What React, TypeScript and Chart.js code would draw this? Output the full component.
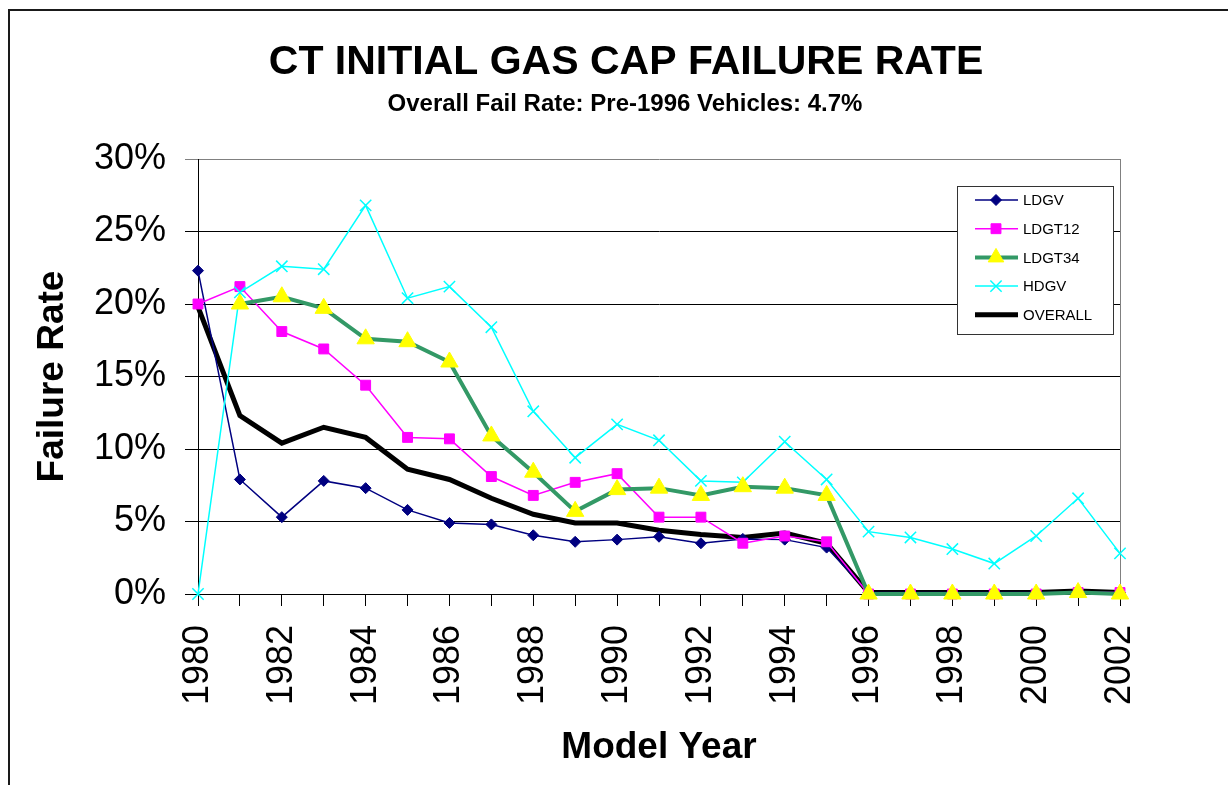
import React, { useEffect, useRef } from 'react';
import { Chart, registerables } from 'chart.js';
import { drawPoint } from 'chart.js/helpers';

Chart.register(...registerables);

const years = ['1980','1981','1982','1983','1984','1985','1986','1987','1988','1989','1990','1991','1992','1993','1994','1995','1996','1997','1998','1999','2000','2001','2002'];
const ldgv = [22.3, 7.9, 5.3, 7.8, 7.3, 5.8, 4.9, 4.8, 4.05, 3.6, 3.75, 3.95, 3.5, 3.8, 3.75, 3.2, 0.1, 0.1, 0.1, 0.1, 0.1, 0.1, 0.1];
const ldgt12 = [20.0, 21.2, 18.1, 16.9, 14.4, 10.8, 10.7, 8.1, 6.8, 7.7, 8.3, 5.3, 5.3, 3.5, 4.0, 3.6, 0, 0, 0, 0, 0, 0.1, 0.1];
const ldgt34 = [null, 20.0, 20.5, 19.7, 17.6, 17.4, 16.0, 10.9, 8.4, 5.7, 7.2, 7.3, 6.8, 7.4, 7.3, 6.8, 0, 0, 0, 0, 0, 0.1, 0];
const hdgv = [0, 20.8, 22.6, 22.4, 26.8, 20.4, 21.2, 18.4, 12.6, 9.4, 11.7, 10.6, 7.8, 7.7, 10.5, 7.9, 4.3, 3.9, 3.1, 2.1, 4.0, 6.6, 2.8];
const overall = [19.8, 12.3, 10.4, 11.5, 10.8, 8.6, 7.9, 6.6, 5.5, 4.9, 4.9, 4.4, 4.1, 3.9, 4.2, 3.5, 0.1, 0.1, 0.1, 0.1, 0.1, 0.2, 0.1];
const yTicks = [0, 5, 10, 15, 20, 25, 30];

const titleText = 'CT INITIAL GAS CAP FAILURE RATE';
const subtitleText = 'Overall Fail Rate: Pre-1996 Vehicles: 4.7%';
const FONT = '"Liberation Sans", Arial, sans-serif';

const decorPlugin = {
  id: 'decor',
  beforeDatasetsDraw(chart: any) {
    const { ctx, chartArea } = chart;
    ctx.save();
    ctx.strokeStyle = '#808080';
    ctx.lineWidth = 1;
    ctx.beginPath();
    ctx.moveTo(Math.round(chartArea.right) + 0.5, chartArea.top);
    ctx.lineTo(Math.round(chartArea.right) + 0.5, chartArea.bottom);
    ctx.stroke();
    ctx.restore();
  },
  afterDraw(chart: any) {
    const { ctx, chartArea } = chart;
    ctx.save();
    // outer border
    ctx.strokeStyle = '#1a1a1a';
    ctx.lineWidth = 2;
    ctx.beginPath();
    ctx.moveTo(9, chart.height);
    ctx.lineTo(9, 10);
    ctx.lineTo(chart.width, 10);
    ctx.stroke();
    // titles
    ctx.fillStyle = '#000';
    ctx.textAlign = 'center';
    ctx.textBaseline = 'middle';
    ctx.font = 'bold 41px ' + FONT;
    ctx.fillText(titleText, 626, 63);
    ctx.font = 'bold 24px ' + FONT;
    ctx.fillText(subtitleText, 625, 104);

    // legend box
    const x0 = Math.round(chartArea.right) - 163;
    const y0 = Math.round(chartArea.top) + 27;
    const w = 156;
    const h = 148;
    ctx.fillStyle = '#fff';
    ctx.fillRect(x0, y0, w, h);
    ctx.strokeStyle = '#333';
    ctx.lineWidth = 1;
    ctx.strokeRect(x0 + 0.5, y0 + 0.5, w, h);
    chart.data.datasets.forEach((ds: any, i: number) => {
      const y = y0 + 14 + i * 28.7;
      ctx.strokeStyle = ds.borderColor;
      ctx.lineWidth = ds.borderWidth;
      ctx.beginPath();
      ctx.moveTo(x0 + 18, y);
      ctx.lineTo(x0 + 61, y);
      ctx.stroke();
      if (ds.pointRadius > 0) {
        ctx.fillStyle = ds.pointBackgroundColor;
        ctx.strokeStyle = ds.pointBorderColor;
        ctx.lineWidth = ds.pointBorderWidth;
        drawPoint(ctx, { pointStyle: ds.pointStyle, radius: ds.legendRadius, borderWidth: ds.pointBorderWidth, rotation: 0 } as any, x0 + 39, y);
      }
      ctx.fillStyle = '#000';
      ctx.textAlign = 'left';
      ctx.textBaseline = 'middle';
      ctx.font = '15px ' + FONT;
      ctx.fillText(ds.label, x0 + 66, y + 1);
    });
    ctx.restore();
  },
};

export default function App() {
  const ref = useRef<HTMLCanvasElement>(null);

  useEffect(() => {
    if (!ref.current) return;
    Chart.defaults.font.family = FONT;
    const chart = new Chart(ref.current, {
      type: 'line',
      data: {
        labels: years,
        datasets: [
          {
            label: 'LDGV',
            data: ldgv,
            borderColor: '#000080',
            backgroundColor: '#000080',
            borderWidth: 1.5,
            pointStyle: 'rectRot',
            pointRadius: 5.5,
            legendRadius: 5.5,
            pointBackgroundColor: '#000080',
            pointBorderColor: '#000080',
            pointBorderWidth: 1,
            order: 3,
            clip: false,
          } as any,
          {
            label: 'LDGT12',
            data: ldgt12,
            borderColor: '#FF00FF',
            backgroundColor: '#FF00FF',
            borderWidth: 1.5,
            pointStyle: 'rect',
            pointRadius: 7,
            legendRadius: 7,
            pointBackgroundColor: '#FF00FF',
            pointBorderColor: '#FF00FF',
            pointBorderWidth: 1,
            order: 2,
            clip: false,
          } as any,
          {
            label: 'LDGT34',
            data: ldgt34,
            borderColor: '#339966',
            backgroundColor: '#FFFF00',
            borderWidth: 4,
            pointStyle: 'triangle',
            pointRadius: 10,
            legendRadius: 9,
            pointBackgroundColor: '#FFFF00',
            pointBorderColor: '#FFFF00',
            pointBorderWidth: 1,
            order: 0,
            clip: false,
          } as any,
          {
            label: 'HDGV',
            data: hdgv,
            borderColor: '#00FFFF',
            backgroundColor: '#00FFFF',
            borderWidth: 1.5,
            pointStyle: 'crossRot',
            pointRadius: 8,
            legendRadius: 8,
            pointBackgroundColor: '#00FFFF',
            pointBorderColor: '#00FFFF',
            pointBorderWidth: 1.5,
            order: 1,
            clip: false,
          } as any,
          {
            label: 'OVERALL',
            data: overall,
            borderColor: '#000000',
            backgroundColor: '#000000',
            borderWidth: 5,
            pointRadius: 0,
            legendRadius: 0,
            pointBorderWidth: 0,
            borderJoinStyle: 'miter',
            order: 4,
            clip: false,
          } as any,
        ],
      },
      options: {
        responsive: false,
        animation: false,
        events: [],
        layout: { padding: { top: 159, left: 0, right: 108, bottom: 0 } },
        plugins: {
          legend: { display: false },
          title: { display: false },
          tooltip: { enabled: false },
        },
        scales: {
          x: {
            type: 'category',
            offset: false,
            afterFit: (s: any) => { s.height = 191; },
            grid: { drawOnChartArea: false, drawTicks: true, tickLength: 12, color: '#000', lineWidth: 1 },
            border: { display: true, color: '#000', width: 1 },
            ticks: {
              autoSkip: false,
              maxRotation: 90,
              minRotation: 90,
              padding: 19,
              color: '#000',
              font: { size: 36 },
              callback: (_v: any, i: number) => (i % 2 === 0 ? years[i] : ''),
            },
            title: {
              display: true,
              text: 'Model Year',
              color: '#000',
              font: { size: 37, weight: 'bold' },
              padding: { top: 0, bottom: 15 },
            },
          },
          y: {
            min: yTicks[0],
            max: yTicks[yTicks.length - 1],
            afterFit: (s: any) => { s.width = 198; },
            afterBuildTicks: (s: any) => { s.ticks = yTicks.map((v) => ({ value: v })); },
            grid: {
              drawOnChartArea: true,
              tickLength: 13,
              color: (c: any) => (c.tick && c.tick.value === 30 ? '#808080' : '#000'),
              lineWidth: 1,
            },
            border: { display: true, color: '#000', width: 1 },
            ticks: {
              padding: 19,
              color: '#000',
              font: { size: 36 },
              callback: (v: any) => v + '%',
            },
            title: {
              display: true,
              text: 'Failure Rate',
              color: '#000',
              font: { size: 37, weight: 'bold' },
              padding: { top: 31, bottom: 0 },
            },
          },
        },
      } as any,
      plugins: [decorPlugin],
    });
    return () => chart.destroy();
  }, []);

  return (
    <div style={{ position: 'fixed', left: 0, top: 0, width: 1228, height: 785, background: '#fff', overflow: 'hidden' }}>
      <canvas ref={ref} width={1228} height={785} style={{ display: 'block' }} />
    </div>
  );
}
